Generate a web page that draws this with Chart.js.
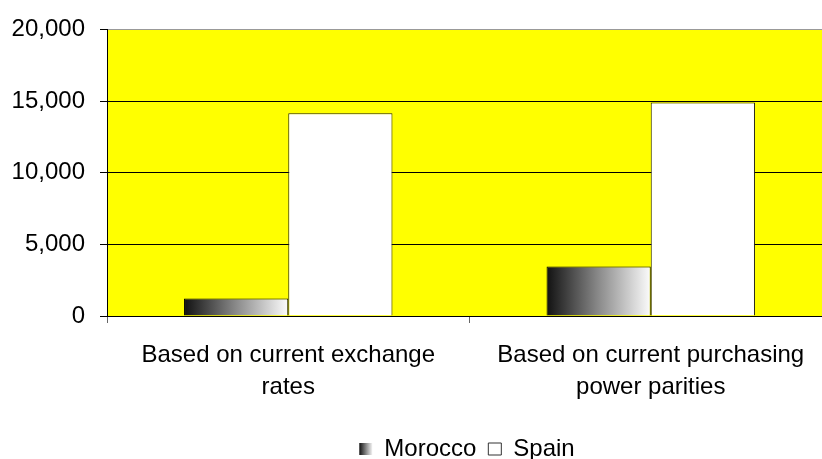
<!DOCTYPE html>
<html>
<head>
<meta charset="utf-8">
<script src="https://cdn.jsdelivr.net/npm/chart.js@4"></script>
<style>
  html, body { margin: 0; padding: 0; background: #fff; overflow: hidden; }
  #wrap { width: 822px; height: 459px; overflow: hidden; }
</style>
</head>
<body>
<div id="wrap"><canvas id="chart" width="934" height="459"></canvas></div>
<script>
const categories = [
  ['Based on current exchange', 'rates'],
  ['Based on current purchasing', 'power parities'],
]
const morocco = [1220, 3450]
const spain = [14140, 14900]
const yTicks = [0, 5000, 10000, 15000, 20000]

const FONT = "'Liberation Sans', Arial, sans-serif"
const GROUP = 0.575

// horizontal dark-to-white fill, one per bar, from the category scale
const moroccoFill = (ctx) => {
  const chart = ctx.chart
  const x = chart.scales.x
  if (!x || x.left === undefined) return '#888'
  const center = x.getPixelForValue(ctx.dataIndex)
  const cat = (x.right - x.left) / categories.length
  const left = center - (cat * GROUP) / 2
  const g = chart.ctx.createLinearGradient(left, 0, center, 0)
  g.addColorStop(0, '#111')
  g.addColorStop(0.5, '#8a8a8a')
  g.addColorStop(1, '#fcfcfc')
  return g
}

const plotBackground = {
  id: 'plotBackground',
  afterLayout(chart) {
    // the legend is centred on the whole (wider) chart, not the padded area
    if (chart.legend) {
      chart.legend.left = 0
      chart.legend.right = chart.width
    }
  },
  beforeDraw(chart) {
    const { ctx, chartArea: a } = chart
    ctx.save()
    ctx.fillStyle = '#ffff00'
    ctx.fillRect(a.left, a.top, a.right - a.left, a.bottom - a.top)
    ctx.restore()
  },
  afterDraw(chart) {
    // paint the Morocco legend swatch with the same gradient
    const hb = chart.legend && chart.legend.legendHitBoxes && chart.legend.legendHitBoxes[0]
    if (!hb) return
    const bw = chart.options.plugins.legend.labels.boxWidth
    const bh = chart.options.plugins.legend.labels.boxHeight
    const y = hb.top + (hb.height - bh) / 2
    const ctx = chart.ctx
    const g = ctx.createLinearGradient(hb.left, 0, hb.left + bw, 0)
    g.addColorStop(0, '#111')
    g.addColorStop(1, '#f4f4f4')
    ctx.save()
    ctx.fillStyle = '#fff'
    ctx.fillRect(hb.left - 1, y - 1, bw + 2, bh + 2)
    ctx.fillStyle = g
    ctx.fillRect(hb.left, y, bw, bh)
    ctx.restore()
  },
}

new Chart(document.getElementById('chart'), {
  type: 'bar',
  data: {
    labels: categories,
    datasets: [
      {
        label: 'Morocco',
        data: morocco,
        backgroundColor: moroccoFill,
        borderColor: '#000',
        borderWidth: 1,
        categoryPercentage: GROUP,
        barPercentage: 1,
      },
      {
        label: 'Spain',
        data: spain,
        backgroundColor: '#ffffff',
        borderColor: '#222',
        borderWidth: 1,
        categoryPercentage: GROUP,
        barPercentage: 1,
      },
    ],
  },
  options: {
    responsive: false,
    animation: false,
    layout: { padding: { top: 26, right: 102, left: 0, bottom: -12 } },
    scales: {
      x: {
        grid: { drawOnChartArea: false, tickLength: 7, color: '#666', offset: true },
        border: { color: '#000', width: 1 },
        ticks: {
          color: '#000',
          font: { family: FONT, size: 24, lineHeight: 1.32 },
          padding: 17,
          maxRotation: 0,
          autoSkip: false,
        },
        afterFit: (scale) => { scale.height = 109 },
      },
      y: {
        min: 0,
        max: 20000,
        afterBuildTicks: (scale) => { scale.ticks = yTicks.map((v) => ({ value: v })) },
        grid: {
          color: (c) => (c.tick && c.tick.value === 20000 ? '#999' : '#000'),
          tickLength: 7,
          tickColor: '#000',
        },
        border: { color: '#000', width: 1 },
        ticks: {
          color: '#000',
          font: { family: FONT, size: 24 },
          padding: 15,
          callback: (v) => v.toLocaleString('en-US'),
        },
        afterFit: (scale) => { scale.width = 107 },
      },
    },
    plugins: {
      legend: {
        position: 'bottom',
        labels: {
          color: '#000',
          font: { family: FONT, size: 24 },
          boxWidth: 13,
          boxHeight: 12,
          padding: 12,
          generateLabels: (chart) => [
            { text: 'Morocco', fillStyle: '#888', strokeStyle: '#fff', lineWidth: 0, datasetIndex: 0 },
            { text: 'Spain', fillStyle: '#fff', strokeStyle: '#333', lineWidth: 1, datasetIndex: 1 },
          ],
        },
      },
      tooltip: { enabled: false },
    },
  },
  plugins: [plotBackground],
})
</script>
</body>
</html>
